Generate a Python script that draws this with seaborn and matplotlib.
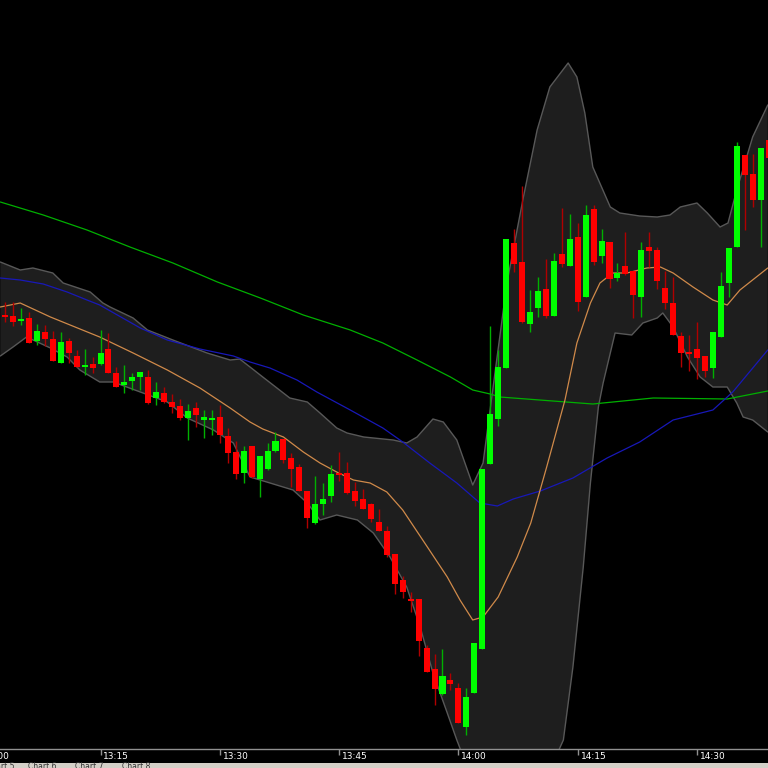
import numpy as np
import pandas as pd
import seaborn as sns
import matplotlib.pyplot as plt

sns.set_theme(style="dark")
plt.rcParams['font.family'] = ['DejaVu Sans']

# one-minute candles, 13:03 .. 14:39 (minutes after 13:00)
minutes = list(range(3, 100))

opens = [434, 433, 428, 431, 408, 417, 410, 386, 408, 393,
         382, 385, 385, 400, 376, 364, 368, 372, 372, 351,
         356, 347, 343, 331, 341, 329, 329, 332, 313, 297,
         276, 303, 270, 280, 298, 310, 291, 282, 258, 226,
         245, 253, 276, 276, 258, 250, 245, 227, 218, 195,
         169, 150, 150, 101, 80, 55, 69, 61, 22, 56,
         100, 285, 330, 381, 506, 487, 425, 441, 460, 433,
         495, 483, 512, 452, 540, 493, 507, 471, 483, 478,
         452, 502, 499, 461, 446, 413, 396, 400, 393, 381,
         412, 466, 502, 594, 575, 549, 609]
highs = [447, 447, 441, 437, 425, 424, 418, 417, 411, 399,
         400, 392, 419, 416, 382, 384, 376, 377, 379, 367,
         362, 355, 350, 345, 347, 339, 339, 344, 321, 308,
         303, 303, 293, 306, 317, 310, 296, 285, 258, 273,
         266, 284, 297, 287, 267, 260, 246, 240, 223, 195,
         173, 157, 150, 104, 95, 100, 76, 66, 61, 106,
         280, 423, 399, 510, 520, 563, 459, 472, 490, 496,
         541, 535, 526, 544, 544, 520, 507, 486, 517, 478,
         507, 517, 502, 478, 472, 417, 414, 427, 393, 417,
         477, 501, 607, 594, 595, 601, 619]
lows = [427, 423, 424, 406, 404, 403, 388, 386, 386, 382,
        374, 376, 384, 376, 362, 356, 359, 359, 345, 344,
        346, 336, 329, 309, 322, 311, 314, 306, 286, 270,
        266, 271, 252, 279, 297, 286, 262, 258, 221, 225,
        234, 247, 268, 255, 243, 240, 227, 218, 192, 155,
        151, 137, 93, 77, 44, 54, 59, 26, 14, 56,
        100, 285, 323, 381, 477, 426, 417, 432, 431, 433,
        482, 483, 438, 452, 484, 486, 461, 468, 474, 431,
        432, 482, 460, 440, 414, 382, 378, 370, 372, 371,
        412, 452, 502, 519, 542, 502, 584]
closes = [432, 427, 430, 406, 418, 410, 388, 407, 396, 382,
          384, 381, 396, 376, 362, 367, 372, 377, 346, 357,
          347, 342, 331, 338, 334, 332, 331, 314, 296, 275,
          298, 272, 293, 298, 308, 289, 280, 258, 231, 245,
          250, 275, 274, 256, 248, 240, 230, 218, 194, 165,
          157, 148, 108, 77, 60, 73, 65, 26, 52, 106,
          280, 335, 382, 510, 485, 427, 437, 458, 433, 488,
          485, 510, 447, 534, 487, 508, 470, 476, 475, 454,
          499, 498, 468, 446, 414, 396, 395, 391, 378, 417,
          463, 501, 603, 574, 549, 601, 591]

# indicator lines at sample times
mid_t = [2.4, 4.9, 8.7, 14.9, 19.1, 23.4, 27.5, 31.3, 33.8, 35.4, 38.0, 40.5,
         42.6, 44.7, 46.8, 48.9, 51.0, 53.0, 56.1, 58.6, 60.2, 61.8, 63.1, 65.0,
         67.4, 69.1, 71.1, 73.4, 74.9, 76.6, 77.8, 79.4, 81.2, 83.7, 85.4, 87.0,
         89.5, 92.0, 93.8, 95.4, 98.9]
mid_v = [442, 446, 432, 412, 396, 379, 361, 341, 327, 320, 312, 297,
         286, 277, 269, 266, 257, 239, 202, 172, 149, 129, 132, 152,
         192, 226, 282, 349, 406, 446, 466, 476, 476, 481, 482, 476,
         462, 449, 444, 459, 481]

blue_t = [2.4, 4.9, 7.8, 10.8, 13.3, 14.9, 20.0, 23.4, 27.5, 31.7, 33.8, 36.3,
          39.7, 42.2, 46.4, 50.5, 53.0, 56.4, 59.8, 62.7, 64.9, 66.9, 70.3, 74.4,
          78.7, 82.8, 87.0, 92.0, 94.5, 98.9]
blue_v = [471, 469, 465, 457, 449, 444, 421, 409, 400, 393, 387, 381,
          369, 357, 339, 321, 307, 286, 266, 246, 243, 250, 258, 271,
          291, 307, 329, 339, 357, 399]

green_t = [2.4, 7.8, 13.3, 18.7, 24.1, 29.7, 35.1, 40.5, 46.4, 50.5, 54.8, 59.0,
           61.8, 64.0, 65.2, 76.9, 84.5, 93.8, 98.9]
green_v = [547, 534, 519, 502, 486, 467, 451, 434, 419, 406, 389, 372,
           359, 355, 352, 345, 351, 350, 358]

upper_t = [2.4, 4.9, 6.5, 9.0, 10.3, 13.7, 15.3, 16.2, 19.1, 20.9, 24.1, 28.4,
           31.3, 32.5, 33.8, 35.4, 38.8, 41.0, 42.6, 44.7, 46.0, 48.1, 51.8, 53.5,
           54.8, 56.8, 58.1, 59.8, 61.8, 63.1, 66.1, 68.1, 69.9, 71.5, 73.8, 74.9,
           75.9, 76.9, 79.1, 80.3, 82.8, 85.0, 86.6, 87.9, 90.0, 91.3, 92.9, 93.9,
           95.0, 97.0, 98.9]
upper_v = [487, 479, 481, 476, 466, 457, 446, 442, 431, 419, 409, 396,
           389, 390, 382, 372, 351, 347, 336, 321, 316, 312, 309, 306,
           312, 330, 327, 309, 264, 286, 466, 549, 619, 662, 686, 672,
           636, 582, 542, 536, 533, 532, 534, 542, 546, 536, 522, 526,
           559, 612, 644]

lower_t = [2.4, 4.0, 5.7, 8.7, 10.8, 12.4, 14.9, 16.6, 20.0, 23.4, 25.9, 29.2,
           31.7, 33.8, 35.9, 39.2, 41.0, 42.6, 44.7, 47.3, 49.3, 51.4, 53.5, 55.2,
           56.8, 58.6, 59.8, 61.5, 64.0, 66.5, 69.0, 71.5, 73.2, 74.4, 75.7, 76.6,
           77.6, 78.2, 79.7, 81.8, 83.2, 85.0, 85.7, 87.0, 88.8, 90.4, 92.0, 93.8,
           95.0, 95.8, 97.0, 98.9]
lower_v = [393, 402, 412, 401, 392, 379, 367, 367, 357, 347, 331, 319,
           306, 272, 267, 259, 246, 229, 234, 229, 216, 192, 162, 122,
           76, 36, 9, -26, -51, -56, -46, -21, 9, 82, 182, 266,
           342, 366, 416, 414, 426, 431, 436, 422, 392, 372, 362, 362,
           346, 332, 329, 317]

tick_labels = ["13:00", "13:15", "13:30", "13:45", "14:00", "14:15", "14:30"]
tick_pos = [0, 15, 30, 45, 60, 75, 90]

df = pd.DataFrame({"t": minutes, "open": opens, "high": highs,
                   "low": lows, "close": closes})
df["up"] = df["close"] >= df["open"]

fig = plt.figure(figsize=(7.68, 7.68), dpi=100, facecolor="black")
ax = fig.add_axes([0, 19 / 768, 1, 749 / 768])
ax.set_facecolor("black")

# bollinger band
band_x = upper_t + lower_t[::-1]
band_y = upper_v + lower_v[::-1]
ax.fill(band_x, band_y, color="#1e1e1e", zorder=1, lw=0)
sns.lineplot(x=upper_t, y=upper_v, ax=ax, color="#585858", lw=1.0, estimator=None, zorder=2)
sns.lineplot(x=lower_t, y=lower_v, ax=ax, color="#585858", lw=1.0, estimator=None, zorder=2)

# moving averages
sns.lineplot(x=green_t, y=green_v, ax=ax, color="#00b000", lw=0.9, estimator=None, zorder=3)
sns.lineplot(x=blue_t, y=blue_v, ax=ax, color="#1818b8", lw=0.9, estimator=None, zorder=3)
sns.lineplot(x=mid_t, y=mid_v, ax=ax, color="#d08a4a", lw=0.9, estimator=None, zorder=3)

# candles
wick_col = np.where(df["up"], "#00b000", "#b00000")
body_col = np.where(df["up"], "#00ff00", "#ff0000")
ax.vlines(df["t"], df["low"], df["high"], colors=wick_col, lw=1.0, zorder=4)
body_lo = np.minimum(df["open"], df["close"])
body_h = np.maximum(np.abs(df["close"] - df["open"]), 1.8)
ax.bar(df["t"], body_h, bottom=body_lo, width=0.76, color=body_col, lw=0, zorder=5)

ax.set_xticks(tick_pos)
ax.set_xticklabels([])
ax.set_yticks([])
ax.set_xlim(2.36, 98.93)
ax.set_ylim(0, 749)
ax.tick_params(axis="x", direction="out", length=4, color="#909090", width=1, bottom=True)
for s in ["top", "left", "right"]:
    ax.spines[s].set_visible(False)
ax.spines["bottom"].set_color("#909090")
ax.spines["bottom"].set_linewidth(1.0)
ax.grid(False)

trans = ax.get_xaxis_transform()
for p, lab in zip(tick_pos, tick_labels):
    ax.text(p + 0.35, -0.0045, lab, transform=trans, ha="left", va="top",
            color="white", fontsize=6.5, clip_on=False)

# tab strip at the bottom
tab = fig.add_axes([0, 0, 1, 5 / 768])
tab.set_facecolor("#d4d0c8")
tab.set_xlim(0, 768)
tab.set_ylim(0, 5)
tab.set_xticks([])
tab.set_yticks([])
for s in tab.spines.values():
    s.set_visible(False)
for xx, lab in [(-14, "Chart 5"), (28, "Chart 6"), (75, "Chart 7"), (122, "Chart 8")]:
    tab.text(xx, 6, lab, ha="left", va="top", fontsize=5.5, color="#333333", clip_on=False)

fig.savefig("out.png", dpi=100, facecolor="black")
